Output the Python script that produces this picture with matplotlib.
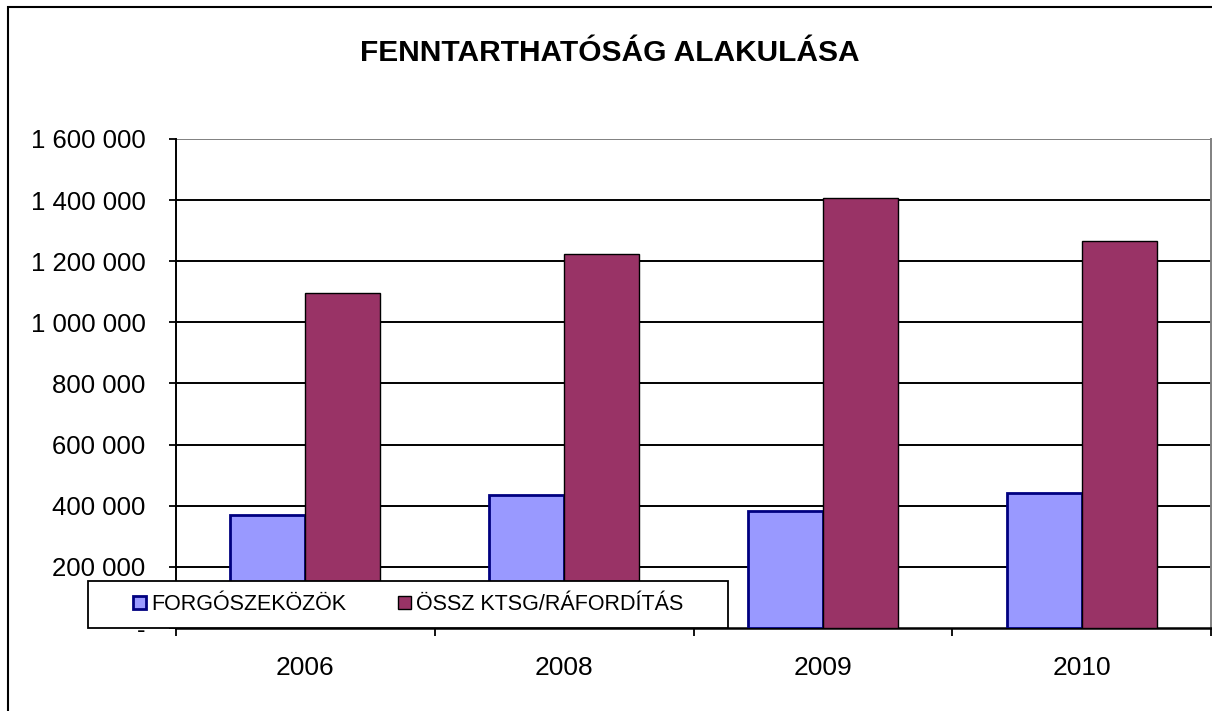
import numpy as np
import matplotlib.pyplot as plt
from matplotlib.patches import Patch, Rectangle

years = ["2006", "2008", "2009", "2010"]
forgo = [370000, 435000, 383000, 442000]
ossz = [1096000, 1224000, 1407000, 1266000]
series_names = ["FORGÓSZEKÖZÖK", "ÖSSZ KTSG/RÁFORDÍTÁS"]
yticks = [0, 200000, 400000, 600000, 800000, 1000000, 1200000, 1400000, 1600000]

plt.rcParams['font.family'] = ['Liberation Sans', 'DejaVu Sans']

W, H = 1212, 711
fig = plt.figure(figsize=(W / 100, H / 100), dpi=100)
ax = fig.add_axes([176 / W, 1 - 628 / H, (1211 - 176) / W, (628 - 139) / H])

x = np.arange(len(years))
bw = 0.29
blue = "#9999FF"
red = "#993366"
ax.bar(x - bw / 2, forgo, bw, color=blue, edgecolor="#000080", linewidth=2, zorder=3)
ax.bar(x + bw / 2, ossz, bw, color=red, edgecolor="black", linewidth=1, zorder=3)

ax.set_xlim(-0.5, len(years) - 0.5)
ax.set_ylim(0, 1600000)

def fmt(v):
    if v == 0:
        return "-"
    return f"{v:,}".replace(",", " ")

ax.set_yticks(yticks)
ax.set_yticklabels([fmt(v) for v in yticks], fontsize=18.5)
ax.tick_params(axis="y", direction="out", length=5, width=1.3, pad=17)

ax.set_xticks(x)
ax.set_xticklabels(years, fontsize=19)
ax.set_xticks(np.arange(-0.5, len(years)), minor=True)
ax.tick_params(axis="x", which="major", length=0, pad=20)
ax.tick_params(axis="x", which="minor", direction="out", length=6, width=1.3)

for v in yticks[1:-1]:
    ax.axhline(v, color="black", linewidth=1.4, zorder=1)
ax.axhline(yticks[-1], color="#808080", linewidth=1.4, zorder=1)

ax.spines["left"].set_linewidth(1.4)
ax.spines["bottom"].set_linewidth(1.8)
ax.spines["top"].set_visible(False)
ax.spines["right"].set_color("#808080")
ax.spines["right"].set_linewidth(1.4)

fig.text(0.503, 1 - 53 / H, "FENNTARTHATÓSÁG ALAKULÁSA", ha="center", va="center",
         fontsize=21.5, fontweight="bold")

# legend box drawn by hand, legend itself without frame
fig.patches.append(Rectangle((88 / W, 1 - 628 / H), 640 / W, 47 / H, transform=fig.transFigure,
                             facecolor="white", edgecolor="black", linewidth=1.3, zorder=5))
handles = [Patch(facecolor=blue, edgecolor="#000080", linewidth=2),
           Patch(facecolor=red, edgecolor="black", linewidth=1)]
leg = fig.legend(handles, series_names, loc="center", ncol=2,
                 bbox_to_anchor=((88 + 728) / 2 / W, 1 - (581 + 628) / 2 / H),
                 fontsize=15.5, frameon=False,
                 handlelength=0.6, handleheight=0.6, handletextpad=0.25,
                 columnspacing=2.4, borderpad=0, borderaxespad=0)
leg.set_zorder(10)

fig.patches.append(Rectangle((8 / W, -0.1), 1.5, 1.1 - 7 / H, transform=fig.transFigure,
                             fill=False, edgecolor="black", linewidth=1.5))

fig.savefig("out.png", dpi=100)
